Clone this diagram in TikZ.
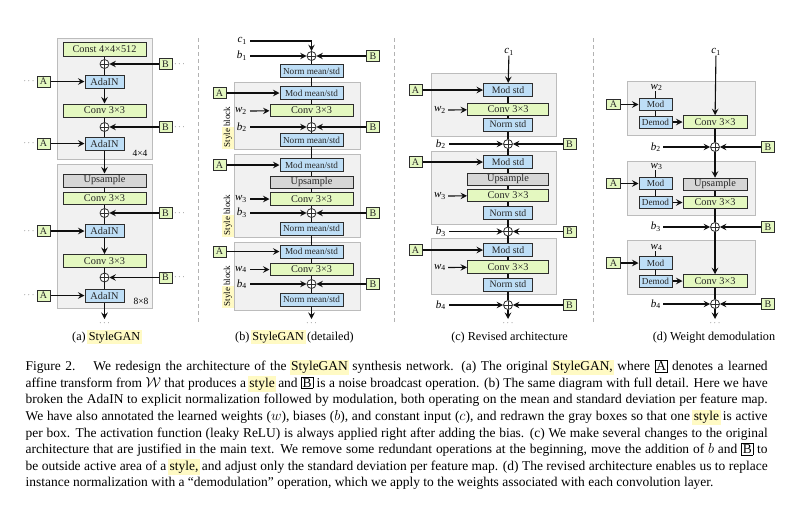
\documentclass[tikz,border=0pt]{standalone}
\usepackage{fontspec}
\setmainfont{Liberation Serif}
\usetikzlibrary{arrows.meta}
\definecolor{greenf}{RGB}{228,248,192}
\definecolor{bluef}{RGB}{190,222,246}
\definecolor{grayf}{RGB}{241,241,241}
\definecolor{grayb}{RGB}{188,188,188}
\definecolor{upf}{RGB}{214,214,214}
\definecolor{boxb}{RGB}{45,45,45}
\definecolor{linec}{RGB}{15,15,15}
\definecolor{hly}{RGB}{255,250,196}
\definecolor{sepc}{RGB}{178,178,178}
\newcommand\hlt[1]{{\setlength\fboxsep{1.5pt}\hspace{-1.5pt}\colorbox{hly}{#1}\hspace{-1.5pt}}}
\newcommand\fsz[1]{\fontsize{#1}{#1}\selectfont}
\newcommand\lab[2]{\textit{#1}\textsubscript{#2}}
\newcommand\bxl[1]{{\setlength\fboxsep{1pt}\setlength\fboxrule{0.6pt}\fbox{#1}}}
\begin{document}
\begin{tikzpicture}[x=1pt,y=-1pt,
  ln/.style={draw=linec,line width=1.1pt},
  arr/.style={ln,-{Stealth[length=6.5pt,width=6.5pt,inset=2.4pt]}},
  grayr/.style={draw=grayb,fill=grayf,line width=0.9pt},
  bx/.style={draw=boxb,line width=1pt,inner sep=0pt,text=black!85},
  gb/.style={bx,fill=greenf},
  bb/.style={bx,fill=bluef},
  ub/.style={bx,fill=upf},
  ab/.style={gb,minimum width=13pt,minimum height=11pt,font=\fsz{10}},
  pl/.style={circle,draw=boxb,fill=white,line width=0.8pt,minimum size=9pt,inner sep=0pt,
    path picture={\draw[line width=0.6pt,boxb] (path picture bounding box.north) -- (path picture bounding box.south)
      (path picture bounding box.west) -- (path picture bounding box.east);}},
  dts/.style={inner sep=0pt,font=\fsz{9},text=black!70},
  lb/.style={inner sep=0pt,font=\fsz{11}},
  sep/.style={draw=sepc,line width=0.9pt,dash pattern=on 4pt off 3pt},
  sub/.style={anchor=base,inner sep=0pt,font=\fsz{12.2}},
  capl/.style={anchor=base west,inner sep=0pt,font=\fontsize{13.46}{16.6}\selectfont},
  wa/.style={minimum width=83pt,minimum height=13pt,font=\fsz{10.3}},
  ada/.style={minimum width=39pt,minimum height=13pt,font=\fsz{10.3}},
  nm/.style={minimum width=63pt,minimum height=13pt,font=\fsz{9.2}},
  wb/.style={minimum width=83pt,minimum height=12.5pt,font=\fsz{10.3}},
  ns/.style={minimum width=49pt,minimum height=13pt,font=\fsz{9.8}},
  wc/.style={minimum width=81pt,minimum height=12.5pt,font=\fsz{10.3}},
  md/.style={minimum width=33pt,minimum height=12.5pt,font=\fsz{9.2}},
  wd/.style={minimum width=64pt,minimum height=12.5pt,font=\fsz{10.3}},
  sb/.style={rotate=90,inner sep=0pt,font=\fsz{9}},
]
\useasboundingbox[fill=white] (0,0) rectangle (802,507);
% separators
\draw[sep] (198,38) -- (198,322);
\draw[sep] (394,38) -- (394,322);
\draw[sep] (593,38) -- (593,322);

% ================= panel (a)
\draw[grayr] (57,38) rectangle (152,159);
\draw[grayr] (57,164) rectangle (152,308);
\node[gb,wa,minimum height=14pt] (aK) at (104.5,49) {Const 4×4×512};
\node[pl] (aP1) at (104.5,64) {};
\node[ab] (aB1) at (165.5,64) {B};
\node[dts] (aDB1) at (179.5,64) {$\cdots$};
\node[bb,ada] (aN1) at (104.5,81.5) {AdaIN};
\node[ab] (aA1) at (43.5,81.5) {A};
\node[dts] (aDA1) at (29,81.5) {$\cdots$};
\node[gb,wa] (aC1) at (104.5,110.5) {Conv 3×3};
\node[pl] (aP2) at (104.5,127) {};
\node[ab] (aB2) at (165.5,127) {B};
\node[dts] (aDB2) at (179.5,127) {$\cdots$};
\node[bb,ada] (aN2) at (104.5,143.5) {AdaIN};
\node[ab] (aA2) at (43.5,143.5) {A};
\node[dts] (aDA2) at (29,143.5) {$\cdots$};
\node[inner sep=0pt,font=\fsz{9.5}] (aL1) at (140,153) {4×4};
\node[ub,wa] (aU) at (104.5,180.5) {Upsample};
\node[gb,wa,minimum height=12pt] (aC2) at (104.5,198) {Conv 3×3};
\node[pl] (aP3) at (104.5,213) {};
\node[ab] (aB3) at (165.5,213) {B};
\node[dts] (aDB3) at (179.5,213) {$\cdots$};
\node[bb,ada] (aN3) at (104.5,231) {AdaIN};
\node[ab] (aA3) at (43.5,231) {A};
\node[dts] (aDA3) at (29,231) {$\cdots$};
\node[gb,wa] (aC3) at (104.5,261) {Conv 3×3};
\node[pl] (aP4) at (104.5,277.5) {};
\node[ab] (aB4) at (165.5,277.5) {B};
\node[dts] (aDB4) at (179.5,277.5) {$\cdots$};
\node[bb,ada] (aN4) at (104.5,295.5) {AdaIN};
\node[ab] (aA4) at (43.5,295.5) {A};
\node[dts] (aDA4) at (29,295.5) {$\cdots$};
\node[inner sep=0pt,font=\fsz{9.5}] (aL2) at (141,301) {8×8};
\coordinate (aO) at (104.5,319);
\node[dts] (aDO) at (104.5,323.5) {$\cdots$};
\draw[ln] (aK) -- (aP1) -- (aN1);
\draw[arr] (aN1) -- (aC1);
\draw[ln] (aC1) -- (aP2) -- (aN2);
\draw[arr] (aN2) -- (aU);
\draw[ln] (aU) -- (aC2) -- (aP3) -- (aN3);
\draw[arr] (aN3) -- (aC3);
\draw[ln] (aC3) -- (aP4) -- (aN4);
\draw[arr] (aN4) -- (aO);
\foreach \i in {1,2,3,4}{
  \draw[arr] (aB\i) -- (aP\i);
  \draw[arr] (aA\i) -- (aN\i);
}

% ================= panel (b)
\draw[grayr] (234,82) rectangle (360,149);
\draw[grayr] (234,154) rectangle (360,237);
\draw[grayr] (234,242) rectangle (360,310);
\node[sb] (bS1) at (228,127) {\hlt{Style} block};
\node[sb] (bS2) at (228,215) {\hlt{Style} block};
\node[sb] (bS3) at (228,286) {\hlt{Style} block};
\node[lb,anchor=east] (bc1) at (247,41) {\lab{c}{1}};
\node[lb,anchor=east] (bb1) at (247,56) {\lab{b}{1}};
\node[pl] (bP1) at (311.5,56) {};
\node[ab] (bB1) at (373,56) {B};
\node[bb,nm] (bN0) at (311.5,71) {Norm mean/std};
\node[ab] (bA1) at (219.5,93) {A};
\node[bb,nm] (bM1) at (311.5,93) {Mod mean/std};
\node[lb,anchor=east] (bw2) at (247,111) {\lab{w}{2}};
\node[gb,wb] (bC1) at (311.5,110.5) {Conv 3×3};
\node[lb,anchor=east] (bb2) at (247,127) {\lab{b}{2}};
\node[pl] (bP2) at (311.5,127) {};
\node[ab] (bB2) at (373,127) {B};
\node[bb,nm] (bN1) at (311.5,140) {Norm mean/std};
\node[ab] (bA2) at (219.5,165) {A};
\node[bb,nm] (bM2) at (311.5,165) {Mod mean/std};
\node[ub,wb,minimum height=12pt] (bU) at (311.5,182.5) {Upsample};
\node[lb,anchor=east] (bw3) at (247,199) {\lab{w}{3}};
\node[gb,wb] (bC2) at (311.5,199) {Conv 3×3};
\node[lb,anchor=east] (bb3) at (247,213) {\lab{b}{3}};
\node[pl] (bP3) at (311.5,213) {};
\node[ab] (bB3) at (373,213) {B};
\node[bb,nm] (bN2) at (311.5,228.5) {Norm mean/std};
\node[ab] (bA3) at (219.5,251.5) {A};
\node[bb,nm] (bM3) at (311.5,251.5) {Mod mean/std};
\node[lb,anchor=east] (bw4) at (247,269.5) {\lab{w}{4}};
\node[gb,wb] (bC3) at (311.5,269.5) {Conv 3×3};
\node[lb,anchor=east] (bb4) at (247,284) {\lab{b}{4}};
\node[pl] (bP4) at (311.5,284) {};
\node[ab] (bB4) at (373,284) {B};
\node[bb,nm] (bN3) at (311.5,299.5) {Norm mean/std};
\coordinate (bO) at (311.5,319);
\node[dts] (bDO) at (311.5,323.5) {$\cdots$};
\draw[arr] ([xshift=3pt]bc1.east) -| (bP1);
\draw[ln] (bP1) -- (bN0) -- (bM1) -- (bC1) -- (bP2) -- (bN1) -- (bM2) -- (bU) -- (bC2) -- (bP3) -- (bN2) -- (bM3) -- (bC3) -- (bP4) -- (bN3);
\draw[arr] (bN3) -- (bO);
\foreach \i in {1,2,3,4}{
  \draw[arr] (bB\i) -- (bP\i);
  \draw[arr] ([xshift=3pt]bb\i.east) -- (bP\i);
}
\foreach \i in {1,2,3}{\draw[arr] (bA\i) -- (bM\i);}
\draw[arr] ([xshift=3pt]bw2.east) -- (bC1);
\draw[arr] ([xshift=3pt]bw3.east) -- (bC2);
\draw[arr] ([xshift=3pt]bw4.east) -- (bC3);

% ================= panel (c)
\draw[grayr] (431,73) rectangle (556,136);
\draw[grayr] (431,151) rectangle (556,224);
\draw[grayr] (431,238) rectangle (556,294);
\node[lb] (cc1) at (509,52) {\lab{c}{1}};
\node[ab] (cA1) at (415.5,90) {A};
\node[bb,ns] (cM1) at (508,90) {Mod std};
\node[lb,anchor=east] (cw2) at (446,110) {\lab{w}{2}};
\node[gb,wc] (cC1) at (508,109.5) {Conv 3×3};
\node[bb,ns] (cN1) at (508,124.5) {Norm std};
\node[lb,anchor=east] (cb2) at (446,144) {\lab{b}{2}};
\node[pl] (cP2) at (508,144) {};
\node[ab] (cB2) at (569.5,144) {B};
\node[ab] (cA2) at (415.5,162) {A};
\node[bb,ns] (cM2) at (508,162) {Mod std};
\node[ub,wc,minimum height=12pt] (cU) at (508,179) {Upsample};
\node[lb,anchor=east] (cw3) at (446,196) {\lab{w}{3}};
\node[gb,wc] (cC2) at (508,195.5) {Conv 3×3};
\node[bb,ns] (cN2) at (508,213) {Norm std};
\node[lb,anchor=east] (cb3) at (446,231.5) {\lab{b}{3}};
\node[pl] (cP3) at (508,231.5) {};
\node[ab] (cB3) at (569.5,231.5) {B};
\node[ab] (cA3) at (415.5,250) {A};
\node[bb,ns] (cM3) at (508,250) {Mod std};
\node[lb,anchor=east] (cw4) at (446,267.5) {\lab{w}{4}};
\node[gb,wc] (cC3) at (508,267) {Conv 3×3};
\node[bb,ns] (cN3) at (508,284.5) {Norm std};
\node[lb,anchor=east] (cb4) at (446,305) {\lab{b}{4}};
\node[pl] (cP4) at (508,305) {};
\node[ab] (cB4) at (569.5,305) {B};
\coordinate (cO) at (508,319);
\node[dts] (cDO) at (508,323.5) {$\cdots$};
\draw[arr] (cc1) -- (cM1);
\draw[ln] (cM1) -- (cC1) -- (cN1) -- (cP2) -- (cM2) -- (cU) -- (cC2) -- (cN2) -- (cP3) -- (cM3) -- (cC3) -- (cN3) -- (cP4);
\draw[arr] (cP4) -- (cO);
\foreach \i in {2,3,4}{
  \draw[arr] (cB\i) -- (cP\i);
  \draw[arr] ([xshift=3pt]cb\i.east) -- (cP\i);
}
\foreach \i in {1,2,3}{\draw[arr] (cA\i) -- (cM\i);}
\draw[arr] ([xshift=2pt]cw2.east) -- (cC1);
\draw[arr] ([xshift=2pt]cw3.east) -- (cC2);
\draw[arr] ([xshift=2pt]cw4.east) -- (cC3);

% ================= panel (d)
\draw[grayr] (627,81) rectangle (755,135);
\draw[grayr] (627,161) rectangle (755,215);
\draw[grayr] (627,240) rectangle (755,294);
\node[lb] (dc1) at (716,52) {\lab{c}{1}};
\node[lb] (dw2) at (656.5,87.5) {\lab{w}{2}};
\node[bb,md] (dM1) at (655.5,104.5) {Mod};
\node[ab,minimum width=14pt,minimum height=10.5pt] (dA1) at (613.5,104.5) {A};
\node[bb,md,minimum height=12pt] (dD1) at (655.5,122) {Demod};
\node[gb,wd] (dC1) at (715,122) {Conv 3×3};
\node[lb,anchor=east] (db2) at (661,147) {\lab{b}{2}};
\node[pl] (dP2) at (715,147) {};
\node[ab] (dB2) at (768,147) {B};
\node[lb] (dw3) at (656.5,166.5) {\lab{w}{3}};
\node[bb,md] (dM2) at (655.5,183.5) {Mod};
\node[ab,minimum width=14pt,minimum height=10.5pt] (dA2) at (613.5,183.5) {A};
\node[ub,wd] (dU) at (715,184.5) {Upsample};
\node[bb,md,minimum height=12pt] (dD2) at (655.5,202.5) {Demod};
\node[gb,wd] (dC2) at (715,202.5) {Conv 3×3};
\node[lb,anchor=east] (db3) at (661,227) {\lab{b}{3}};
\node[pl] (dP3) at (715,227) {};
\node[ab] (dB3) at (768,227) {B};
\node[lb] (dw4) at (656.5,247.5) {\lab{w}{4}};
\node[bb,md] (dM3) at (655.5,263) {Mod};
\node[ab,minimum width=14pt,minimum height=10.5pt] (dA3) at (613.5,263) {A};
\node[bb,md,minimum height=12pt] (dD3) at (655.5,281) {Demod};
\node[gb,wd] (dC3) at (715,281) {Conv 3×3};
\node[lb,anchor=east] (db4) at (661,304) {\lab{b}{4}};
\node[pl] (dP4) at (715,304) {};
\node[ab] (dB4) at (768,304) {B};
\coordinate (dO) at (715,319);
\node[dts] (dDO) at (715,323.5) {$\cdots$};
\draw[arr] (dc1) -- (dC1);
\draw[ln] (dC1) -- (dP2);
\draw[arr] (dP2) -- (dU);
\draw[ln] (dU) -- (dC2) -- (dP3);
\draw[arr] (dP3) -- (dC3);
\draw[ln] (dC3) -- (dP4);
\draw[arr] (dP4) -- (dO);
\foreach \i/\j in {1/2,2/3,3/4}{
  \draw[ln] (dw\j.south -| dM\i) -- (dM\i);
  \draw[ln] (dM\i) -- (dD\i);
  \draw[arr] (dA\i) -- (dM\i);
  \draw[arr] (dD\i) -- (dC\i);
}
\foreach \i in {2,3,4}{
  \draw[arr] (dB\i) -- (dP\i);
  \draw[arr] ([xshift=2pt]db\i.east) -- (dP\i);
}

% ================= sub-captions
\node[sub] (capa) at (107,340) {(a) \hlt{StyleGAN}};
\node[sub] (capb) at (294.5,340) {(b) \hlt{StyleGAN} (detailed)};
\node[sub] (capc) at (509.5,340) {(c) Revised architecture};
\node[sub] (capd) at (714,340) {(d) Weight demodulation};

% ================= caption
\node[capl] (cap1) at (25.5,370.5) {\makebox[742pt][s]{Figure 2.\hspace{18pt}We redesign the architecture of the \hlt{StyleGAN} synthesis network. (a) The original \hlt{StyleGAN,} where \bxl{A} denotes a learned}};
\node[capl] (cap2) at (25.5,387.1) {\makebox[742pt][s]{affine transform from $\mathcal{W}$ that produces a \hlt{style} and \bxl{B} is a noise broadcast operation. (b) The same diagram with full detail. Here we have}};
\node[capl] (cap3) at (25.5,403.7) {\makebox[742pt][s]{broken the AdaIN to explicit normalization followed by modulation, both operating on the mean and standard deviation per feature map.}};
\node[capl] (cap4) at (25.5,420.4) {\makebox[742pt][s]{We have also annotated the learned weights ($w$), biases ($b$), and constant input ($c$), and redrawn the gray boxes so that one \hlt{style} is active}};
\node[capl] (cap5) at (25.5,437.0) {\makebox[742pt][s]{per box. The activation function (leaky ReLU) is always applied right after adding the bias. (c) We make several changes to the original}};
\node[capl] (cap6) at (25.5,453.6) {\makebox[742pt][s]{architecture that are justified in the main text. We remove some redundant operations at the beginning, move the addition of $b$ and \bxl{B} to}};
\node[capl] (cap7) at (25.5,470.2) {\makebox[742pt][s]{be outside active area of a \hlt{style,} and adjust only the standard deviation per feature map. (d) The revised architecture enables us to replace}};
\node[capl] (cap8) at (25.5,486.8) {instance normalization with a “demodulation” operation, which we apply to the weights associated with each convolution layer.};
\end{tikzpicture}
\end{document}
